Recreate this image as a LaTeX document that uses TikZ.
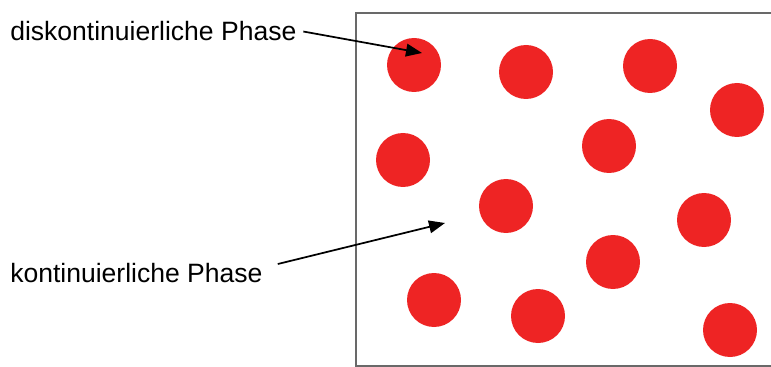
\documentclass[tikz,border=0pt]{standalone}
\usepackage{fontspec}
\setmainfont{Liberation Sans}
\usetikzlibrary{arrows.meta}
\definecolor{dropred}{RGB}{238,36,36}
\definecolor{boxgray}{RGB}{105,105,105}

\begin{document}
\begin{tikzpicture}[x=0.75pt,y=-0.75pt,
  drop/.style={circle,fill=dropred,minimum size=40.5pt,inner sep=0pt},
  phase/.style={font=\fontsize{19.9}{23}\selectfont,inner sep=0pt,anchor=base west},
  pointer/.style={-{Triangle[length=12pt,width=9.5pt]},line width=1.3pt}]
\useasboundingbox (0,0) rectangle (771,367);
\draw[boxgray,line width=1.5pt] (771,13) -- (356,13) -- (356,366) -- (771,366);
\node[drop] (d1) at (414,65) {};
\node[drop] (d2) at (526,72) {};
\node[drop] (d3) at (650,66) {};
\node[drop] (d4) at (737,110) {};
\node[drop] (d5) at (403,160) {};
\node[drop] (d6) at (609,146) {};
\node[drop] (d7) at (506,206) {};
\node[drop] (d8) at (704,220) {};
\node[drop] (d9) at (613,262) {};
\node[drop] (d10) at (434,300) {};
\node[drop] (d11) at (538,316) {};
\node[drop] (d12) at (730,330) {};
\node[phase] (diskont) at (10,41) {diskontinuierliche Phase};
\node[phase] (kont) at (10,282) {kontinuierliche Phase};
\coordinate (tipdisk) at (422,53);
\coordinate (tipkont) at (445,223);
\draw[pointer] ([xshift=5pt]diskont.east) -- (tipdisk);
\draw[pointer] ([shift={(15,-8.5)}]kont.east) -- (tipkont);
\end{tikzpicture}
\end{document}
